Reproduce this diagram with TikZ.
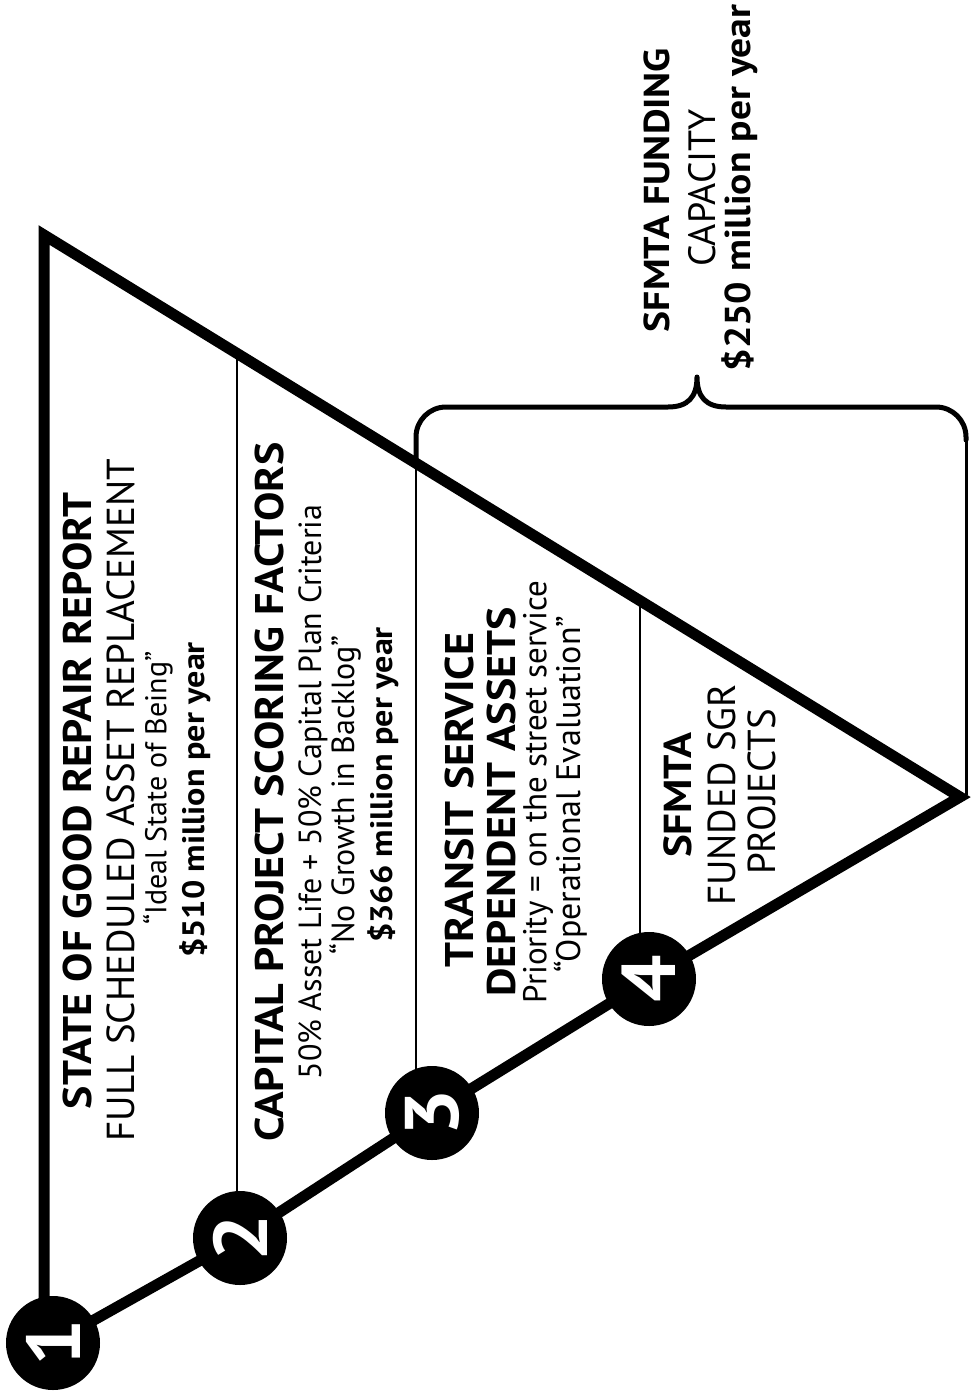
\documentclass[tikz,border=0pt]{standalone}
\usepackage{fontspec}
\setmainfont{PT Sans}[BoldFeatures={FakeStretch=1.1}]
\begin{document}
\begin{tikzpicture}[x=1bp,y=-1bp,
  txt/.style={rotate=90, inner sep=0pt, anchor=center},
  tb/.style={txt, font=\fontsize{#1bp}{#1bp}\selectfont\bfseries},
  tr/.style={txt, font=\fontsize{#1bp}{#1bp}\selectfont},
  num/.style={circle, fill=black, minimum size=94bp, inner sep=0pt, text=white, rotate=90,
    font=\fontsize{76bp}{76bp}\selectfont\bfseries},
  frame/.style={line width=11bp, line join=miter},
  divider/.style={line width=2bp},
  bracepath/.style={line width=5bp, line cap=round, line join=round},
  thinline/.style={line width=3bp}]
\useasboundingbox (0,0) rectangle (970,1394);
% triangle corners
\coordinate (tl) at (44,235);
\coordinate (bl) at (44,1320);
\coordinate (apex) at (960,797);
% circles positions
\coordinate (p1) at (53,1343);
\coordinate (p2) at (240,1238);
\coordinate (p3) at (432,1113);
\coordinate (p4) at (649,979);
% frame
\draw[frame] (bl) -- (tl) -- (apex) -- (p4) -- (p3) -- (p2) -- (p1);
% dividers
\coordinate (d2) at (237,353);
\coordinate (d3) at (416,462);
\coordinate (d4) at (640,600);
\draw[divider] (d2) -- (d2 |- p2);
\draw[divider] (d3) -- (d3 |- p3);
\draw[divider] (d4) -- (d4 |- p4);
% brace
\coordinate (bt) at (697,377);
\coordinate (br) at (966,440);
\coordinate (bre) at (966,795);
\draw[bracepath] (d3) -- (416,437) arc[start angle=180, end angle=270, radius=30]
  -- (668,407) .. controls (688,407) and (697,397) .. (bt)
  .. controls (697,397) and (706,407) .. (726,407)
  -- (936,407) arc[start angle=270, end angle=360, radius=30] -- (br);
\draw[thinline] (br) -- (bre);
% numbered circles
\node[num] (c1) at (p1) {1};
\node[num] (c2) at (p2) {2};
\node[num] (c3) at (p3) {3};
\node[num] (c4) at (p4) {4};
% section 1
\node[tb=40] (s1a) at (77,801) {STATE OF GOOD REPAIR REPORT};
\node[tr=39] (s1b) at (121,800) {FULL SCHEDULED ASSET REPLACEMENT};
\node[tr=30] (s1c) at (158,788) {“Ideal State of Being”};
\node[tb=31] (s1d) at (195,800) {\$510 million per year};
% section 2
\node[tb=40] (s2a) at (269,792) {CAPITAL PROJECT SCORING FACTORS};
\node[tr=32] (s2b) at (313,792) {50\% Asset Life + 50\% Capital Plan Criteria};
\node[tr=32] (s2c) at (345,795) {“No Growth in Backlog”};
\node[tb=31] (s2d) at (383,785) {\$366 million per year};
% section 3
\node[tb=40] (s3a) at (459,800) {TRANSIT SERVICE};
\node[tb=40] (s3b) at (501,802) {DEPENDENT ASSETS};
\node[tr=33] (s3c) at (538,792) {Priority = on the street service};
\node[tr=34] (s3d) at (571,794) {“Operational Evaluation”};
% section 4
\node[tb=39] (s4a) at (678,795) {SFMTA};
\node[tr=39] (s4b) at (722,795) {FUNDED SGR};
\node[tr=39] (s4c) at (762,792) {PROJECTS};
% funding capacity
\node[tb=36] (fa) at (657,190) {SFMTA FUNDING};
\node[tr=38] (fb) at (702,188) {CAPACITY};
\node[tb=36] (fc) at (740,188) {\$250 million per year};
\end{tikzpicture}
\end{document}
